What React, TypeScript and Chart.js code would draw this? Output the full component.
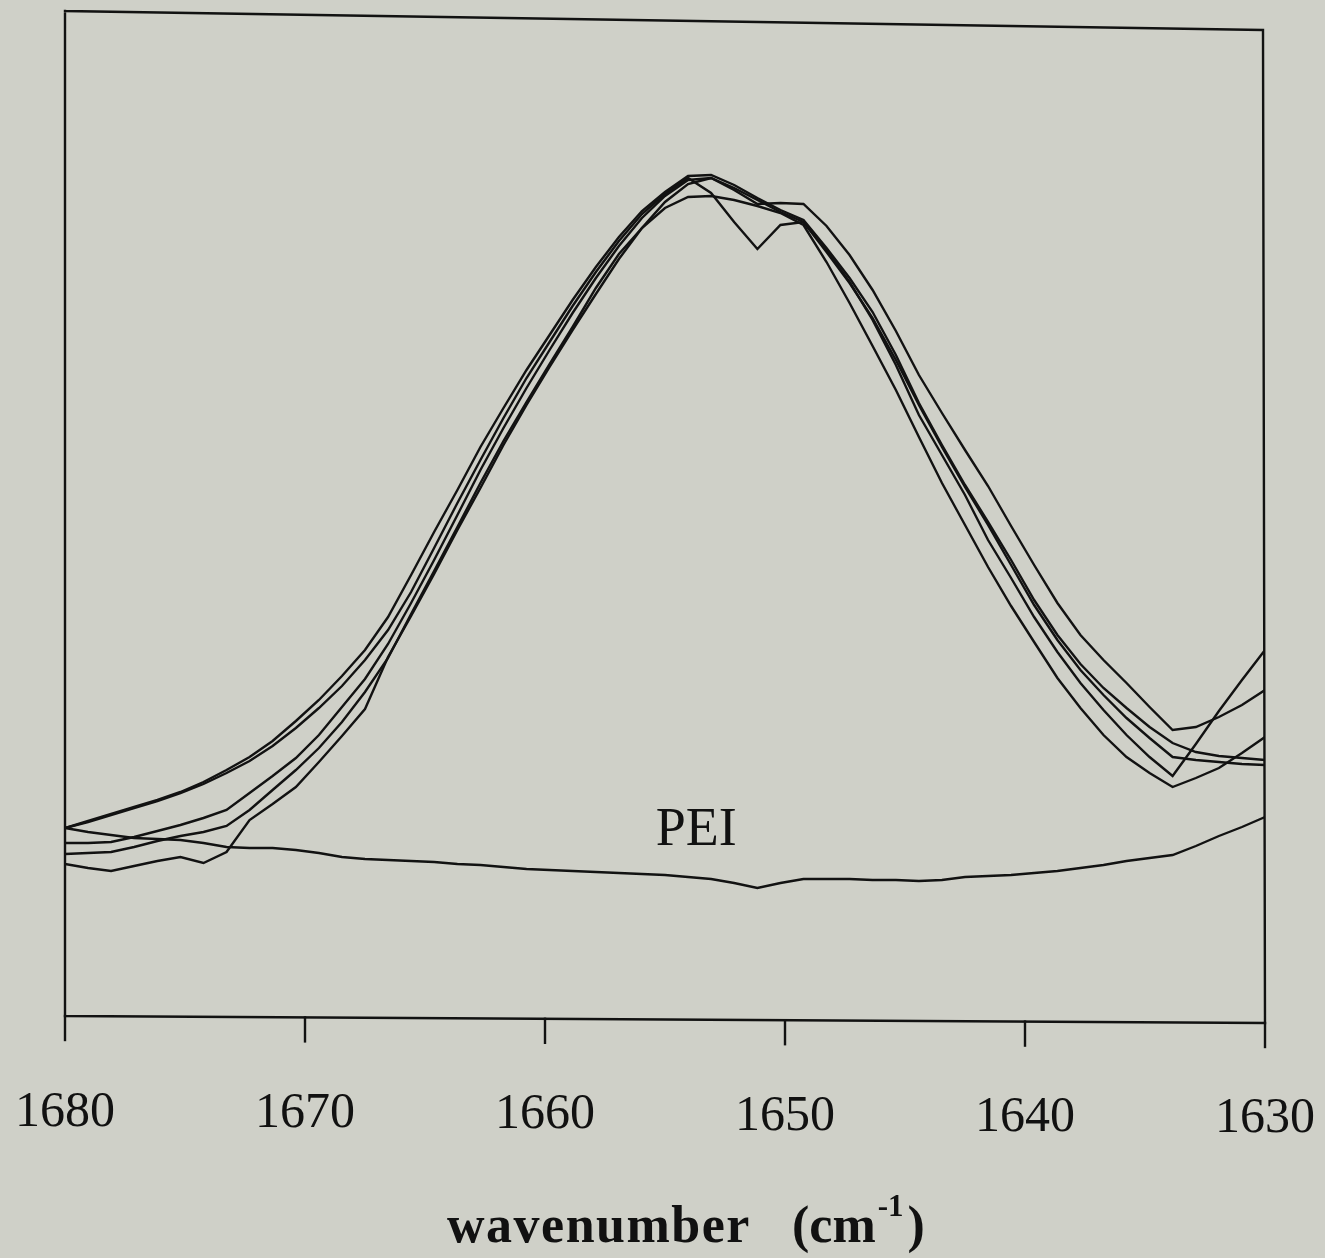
import React, { useEffect, useRef } from "react";
import { Chart, registerables } from "chart.js";
Chart.register(...registerables);

// wavenumber sampling (cm^-1), high to low
const wavenumbers = [
  1680.0, 1679.04, 1678.08, 1677.12, 1676.15, 1675.19, 1674.23, 1673.27, 1672.31, 1671.35,
  1670.38, 1669.42, 1668.46, 1667.5, 1666.54, 1665.58, 1664.62, 1663.65, 1662.69, 1661.73,
  1660.77, 1659.81, 1658.85, 1657.88, 1656.92, 1655.96, 1655.0, 1654.04, 1653.08, 1652.12,
  1651.15, 1650.19, 1649.23, 1648.27, 1647.31, 1646.35, 1645.38, 1644.42, 1643.46, 1642.5,
  1641.54, 1640.58, 1639.62, 1638.65, 1637.69, 1636.73, 1635.77, 1634.81, 1633.85, 1632.88,
  1631.92, 1630.96, 1630.0,
];

// absorbance (arbitrary units)
const spectrum1 = [
  191, 198, 205, 212, 219, 227, 237, 249, 262, 278, 298, 319, 343, 369, 402, 444, 487, 529, 572, 611,
  649, 684, 719, 752, 782, 808, 827, 843, 844, 834, 821, 809, 799, 771, 741, 707, 664, 616, 574, 534,
  497, 459, 419, 384, 355, 331, 311, 292, 276, 267, 263, 261, 259,
];
const spectrum2 = [
  191, 197, 204, 211, 218, 226, 235, 246, 258, 273, 291, 311, 333, 359, 389, 427, 471, 516, 559, 601,
  641, 677, 713, 747, 778, 805, 825, 841, 826, 797, 770, 794, 797, 769, 737, 699, 654, 604, 564, 524,
  479, 441, 402, 367, 336, 309, 284, 262, 243, 275, 308, 339, 369,
];
const spectrum3 = [
  176, 176, 177, 182, 188, 194, 201, 209, 226, 243, 261, 284, 312, 340, 375, 416, 459, 504, 549, 591,
  631, 669, 706, 741, 773, 801, 823, 839, 841, 829, 815, 816, 815, 793, 764, 729, 688, 644, 606, 569,
  533, 493, 454, 416, 384, 359, 336, 312, 289, 292, 302, 314, 329,
];
const spectrum4 = [
  165, 166, 167, 172, 178, 183, 187, 193, 209, 229, 249, 271, 297, 327, 361, 405, 448, 492, 536, 578,
  617, 655, 692, 731, 765, 791, 811, 822, 823, 819, 813, 806, 794, 757, 716, 673, 629, 582, 536, 494,
  452, 413, 377, 341, 311, 284, 262, 246, 232, 241, 251, 266, 282,
];
const spectrum5 = [
  155, 151, 148, 153, 158, 162, 156, 167, 199, 215, 232, 257, 283, 310, 362, 403, 445, 489, 531, 574,
  614, 652, 689, 725, 760, 791, 817, 835, 841, 831, 819, 807, 797, 767, 736, 701, 659, 614, 572, 532,
  494, 454, 414, 379, 349, 324, 301, 281, 262, 259, 257, 255, 254,
];
const spectrumPEI = [
  191, 187, 184, 181, 180, 179, 176, 172, 171, 171, 169, 166, 162, 160, 159, 158, 157, 155, 154, 152,
  150, 149, 148, 147, 146, 145, 144, 142, 140, 136, 131, 136, 140, 140, 140, 139, 139, 138, 139, 142,
  143, 144, 146, 148, 151, 154, 158, 161, 164, 173, 183, 192, 202,
];

const tickValues = [1680, 1670, 1660, 1650, 1640, 1630];
const xTitleWord = "wavenumber";
const xTitleUnit = "(cm";
const xTitleSup = "-1";
const xTitleEnd = ")";
const peiText = "PEI";
const peiAt = { x: 1653.7, y: 174 };

const BG = "#cfd0c8";
const INK = "#121212";
const SERIF = "'Liberation Serif', 'Times New Roman', serif";

export default function App() {
  const ref = useRef<HTMLCanvasElement>(null);

  useEffect(() => {
    document.body.style.margin = "0";
    document.body.style.background = BG;
    const canvas = ref.current;
    if (!canvas) return;

    const series = [spectrum1, spectrum2, spectrum3, spectrum4, spectrum5, spectrumPEI];
    const datasets = series.map((vals) => ({
      data: vals.map((v, i) => ({ x: wavenumbers[i], y: v })),
      borderColor: INK,
      borderWidth: 2.4,
      pointRadius: 0,
      fill: false,
      tension: 0,
    }));

    const decor = {
      id: "decor",
      beforeDraw(chart: any) {
        const ctx = chart.ctx;
        ctx.save();
        ctx.fillStyle = BG;
        ctx.fillRect(0, 0, chart.width, chart.height);
        ctx.restore();
      },
      afterDraw(chart: any) {
        const ctx = chart.ctx;
        const { left, right, top, bottom } = chart.chartArea;
        const xs = chart.scales.x;
        ctx.save();
        ctx.strokeStyle = INK;
        ctx.lineWidth = 2.4;
        ctx.lineCap = "square";
        // frame (slightly skewed like the scanned original)
        const tl = { x: left, y: top - 8 };
        const tr = { x: right - 2, y: top + 11 };
        const bl = { x: left, y: bottom - 3 };
        const br = { x: right, y: bottom + 4 };
        ctx.beginPath();
        ctx.moveTo(tl.x, tl.y);
        ctx.lineTo(tr.x, tr.y);
        ctx.moveTo(tl.x, tl.y);
        ctx.lineTo(bl.x, bl.y);
        ctx.moveTo(tr.x, tr.y);
        ctx.lineTo(br.x, br.y);
        ctx.moveTo(bl.x, bl.y);
        ctx.lineTo(br.x, br.y);
        ctx.stroke();
        // ticks and labels
        ctx.fillStyle = "#111";
        ctx.font = `50px ${SERIF}`;
        ctx.textAlign = "center";
        ctx.textBaseline = "alphabetic";
        tickValues.forEach((t) => {
          const px = xs.getPixelForValue(t);
          const f = (px - bl.x) / (br.x - bl.x);
          const ay = bl.y + f * (br.y - bl.y);
          ctx.beginPath();
          ctx.moveTo(px, ay);
          ctx.lineTo(px, ay + 24);
          ctx.stroke();
          ctx.fillText(String(t), px, 1126 + f * 6);
        });
        // axis title with superscript
        ctx.textAlign = "left";
        const ty = 1242;
        ctx.font = `bold 52px ${SERIF}`;
        (ctx as any).letterSpacing = "1.5px";
        ctx.fillText(xTitleWord, 447, ty);
        (ctx as any).letterSpacing = "0px";
        const ux = 792;
        ctx.fillText(xTitleUnit, ux, ty);
        const w = ctx.measureText(xTitleUnit).width;
        ctx.font = `bold 31px ${SERIF}`;
        ctx.fillText(xTitleSup, ux + w + 2, ty - 26);
        const ws = ctx.measureText(xTitleSup).width;
        ctx.font = `bold 52px ${SERIF}`;
        ctx.fillText(xTitleEnd, ux + w + ws + 6, ty);
        // PEI label
        ctx.font = `54px ${SERIF}`;
        ctx.textAlign = "center";
        ctx.fillText(peiText, xs.getPixelForValue(peiAt.x), chart.scales.y.getPixelForValue(peiAt.y));
        ctx.restore();
      },
    };

    const chart = new Chart(canvas, {
      type: "line",
      data: { datasets },
      options: {
        responsive: false,
        animation: false,
        layout: { padding: { left: 65, right: 60, top: 19, bottom: 239 } },
        plugins: { legend: { display: false }, tooltip: { enabled: false } },
        scales: {
          x: { type: "linear", min: 1630, max: 1680, reverse: true, display: false },
          y: { type: "linear", min: 0, max: 1000, display: false },
        },
      },
      plugins: [decor],
    });
    return () => chart.destroy();
  }, []);

  return (
    <canvas
      ref={ref}
      width={1325}
      height={1258}
      style={{ display: "block", width: 1325, height: 1258 }}
    />
  );
}
